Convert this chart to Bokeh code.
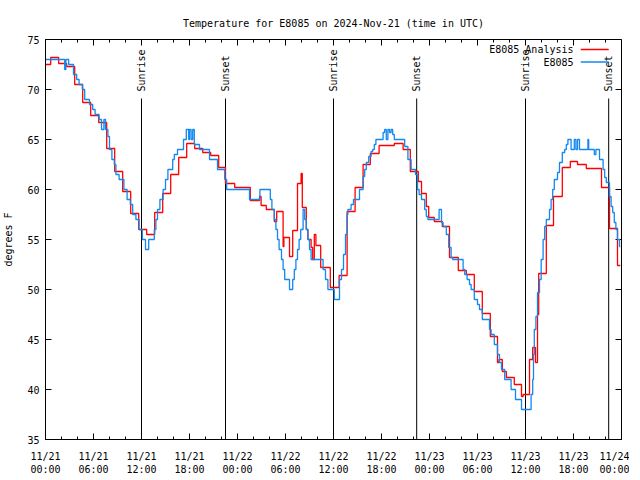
import math
from bokeh.plotting import figure
from bokeh.models import Range1d, FixedTicker, ColumnDataSource
from bokeh.core.properties import value
from bokeh.embed import file_html
from bokeh.resources import INLINE

FONT = "DejaVu Sans Mono"

# ---- data (hours since 2024-11-21 00:00 UTC, degrees F) ----
x_ticks = [0, 6, 12, 18, 24, 30, 36, 42, 48, 54, 60, 66, 72]
x_tick_labels = ["11/21\n00:00", "11/21\n06:00", "11/21\n12:00", "11/21\n18:00",
                 "11/22\n00:00", "11/22\n06:00", "11/22\n12:00", "11/22\n18:00",
                 "11/23\n00:00", "11/23\n06:00", "11/23\n12:00", "11/23\n18:00",
                 "11/24\n00:00"]
x_minor = [h for h in range(0, 73, 2)]
y_ticks = [35, 40, 45, 50, 55, 60, 65, 70, 75]

sun_hours = [12.0, 22.5, 36.0, 46.4, 60.0, 70.4]
sun_labels = ["Sunrise", "Sunset", "Sunrise", "Sunset", "Sunrise", "Sunset"]

analysis_hours = [0, 0.65, 1.65, 2.65, 3.65, 4.65, 5.65, 6.65, 7.65, 8.65, 9.65, 10.65,
                  11.65, 12.65, 13.65, 14.65, 15.65, 16.65, 17.65, 18.65, 19.65, 20.65,
                  21.65, 22.5, 23.65, 25.6, 26.75, 26.95, 27.6, 28.6, 28.9, 29.7, 29.8,
                  30.5, 30.9, 31.5, 31.95, 32.1, 32.6, 32.8, 33.2, 33.4, 33.6, 33.8, 34.4,
                  35.6, 36.7, 37.7, 38.7, 39.7, 40.6, 41.7, 42.7, 43.6, 44.7, 45.6, 46.6,
                  47.0, 47.6, 47.9, 48.6, 49.6, 50.5, 51.6, 52.6, 53.6, 54.6, 55.6, 56.5,
                  56.7, 57.1, 57.6, 58.6, 59.5, 59.7, 60.5, 60.9, 61.25, 61.5, 61.65, 62.6,
                  63.5, 64.6, 65.6, 66.5, 67.6, 69.5, 70.5, 71.5, 71.85]
analysis_temps = [72.5, 73.2, 72.6, 72.3, 70.5, 68.7, 67.4, 66.7, 64.1, 61.8, 59.8, 57.6,
                  56.0, 55.5, 57.7, 59.6, 61.5, 63.2, 64.6, 64.1, 63.7, 63.4,
                  62.2, 60.6, 60.2, 58.9, 59.3, 58.4, 58.0, 56.8, 57.8, 54.3, 55.2,
                  53.3, 55.9, 60.6, 61.6, 58.2, 56.0, 55.0, 54.2, 53.0, 55.5, 54.4, 52.2,
                  50.2, 51.4, 57.8, 60.2, 62.5, 63.6, 64.4, 64.4, 64.6, 64.0, 61.8, 60.8,
                  59.6, 58.3, 57.2, 56.8, 56.3, 53.2, 51.9, 51.5, 49.8, 47.6, 45.3, 42.7,
                  43.0, 41.8, 41.2, 40.5, 39.3, 39.5, 43.0, 44.2, 42.7, 47.5, 51.6, 56.4,
                  59.3, 62.2, 62.8, 62.5, 62.1, 60.2, 56.1, 52.4, 52.4]

obs_hours = [0.0, 2.4, 2.55, 2.9, 3.5, 3.9, 4.2, 4.6, 4.9, 5.5, 5.9, 6.2, 6.7, 7.0, 7.3,
             7.5, 7.8, 8.0, 8.3, 8.6, 8.8, 9.2, 9.8, 10.2, 10.6, 10.9, 11.3, 11.7, 12.1,
             12.5, 12.9, 13.6, 13.8, 14.0, 14.3, 14.7, 15.0, 15.3, 15.9, 16.1, 16.5,
             17.25, 17.6, 17.9, 18.0, 18.2, 18.4, 18.6, 19.25, 20.5, 21.5, 22.4, 22.65,
             25.5, 26.8, 28.1, 28.3, 28.6, 28.8, 29.0, 29.2, 29.5, 29.7, 29.9, 30.5,
             30.9, 31.1, 31.3, 31.5, 31.7, 31.9, 32.2, 32.4, 32.6, 32.8, 33.0, 33.2,
             34.7, 35.0, 35.3, 36.1, 36.75, 37.0, 37.25, 37.5, 37.7, 37.8, 38.2, 38.5,
             39.25, 39.7, 39.9, 40.1, 40.4, 40.7, 40.9, 41.1, 41.3, 42.2, 42.4, 42.6,
             42.8, 43.0, 43.2, 43.4, 43.6, 44.9, 45.3, 45.7, 46.25, 46.5, 46.7, 47.0,
             47.4, 47.6, 47.8, 49.2, 49.5, 49.7, 50.1, 50.4, 50.7, 50.9, 52.2, 52.4,
             52.7, 53.0, 53.2, 53.6, 54.0, 54.25, 54.6, 55.5, 55.7, 56.1, 56.5, 56.75,
             57.0, 57.4, 58.2, 58.75, 59.5, 60.7, 60.9, 61.0, 61.1, 61.3, 61.5, 61.75,
             61.96, 62.2, 62.4, 62.6, 63.0, 63.2, 63.4, 63.6, 64.0, 64.25, 64.6, 64.9,
             65.1, 65.3, 65.7, 66.1, 66.3, 66.5, 66.75, 67.8, 67.9, 68.6, 68.8, 69.25,
             69.7, 69.9, 70.1, 70.5, 70.7, 70.9, 71.1, 71.3, 71.5, 71.75, 71.85]
obs_temps = [73, 72, 73, 72.5, 71.5, 71, 70.5, 70, 69, 68.5, 68, 67.5, 67, 66, 67,
             66, 65.3, 64, 63, 62.5, 61.5, 61, 60, 59, 58.5, 57.5, 57, 56, 55,
             54, 55, 56, 57, 58, 59, 60, 61, 62, 63, 63.5, 64,
             65, 66, 65, 66, 65, 66, 64.5, 64, 63, 62, 61, 60,
             59, 60, 59, 58, 57, 56, 55, 54, 53, 52, 51, 50,
             51, 52, 53, 54, 55, 56, 58, 57, 56, 55, 54, 53,
             52, 51, 50, 49, 51, 52, 53.5, 55.5, 57.5, 58, 58.5, 59,
             60, 61.3, 62, 62.7, 63.3, 63.8, 64, 64.5, 65, 65.7, 66, 65,
             66, 65.7, 66, 65.5, 65, 64.3, 63, 62, 61.5, 60, 59.5, 59,
             58, 57.3, 57, 58, 56.7, 56.3, 55.5, 54.2, 53.2, 53, 52, 51.5,
             51, 50.5, 50, 49, 48.5, 48, 47, 46, 45.5, 44.5, 43.5, 42.7,
             42, 41, 40, 39, 38, 39.5, 41, 43.5, 46, 47.3, 49.7, 51,
             53, 55, 56.3, 57, 58, 59, 60, 61, 61.7, 62.7, 63.7, 64,
             64.5, 65, 64, 65, 64, 65, 64, 65, 64, 63.5, 64, 63,
             62, 61.2, 60.7, 59.3, 58.3, 57.7, 56.7, 56, 55, 54.3, 54.3]

series_names = ["E8085 Analysis", "E8085"]
series_colors = ["#ff0000", "#1288f0"]

X0, X1, Y0, Y1 = 0, 72, 35, 75

# ---- figure ----
p = figure(frame_width=576, frame_height=400,
           x_range=Range1d(X0, X1), y_range=Range1d(Y0, Y1),
           output_backend="svg", toolbar_location=None,
           min_border_left=42, min_border_right=8, min_border_top=39,
           min_border_bottom=8, background_fill_color="white",
           border_fill_color="white")
p.title.text = "Temperature for E8085 on 2024-Nov-21 (time in UTC)"
p.title.align = "center"
p.title.text_font = FONT
p.title.text_font_size = "10px"
p.title.text_font_style = "normal"
p.title.text_color = "black"
p.title.standoff = 22
p.outline_line_color = "black"
p.outline_line_width = 1
p.grid.visible = False

xt = FixedTicker(ticks=x_ticks, minor_ticks=x_minor)
yt = FixedTicker(ticks=y_ticks, minor_ticks=[])

p.xaxis.ticker = xt
p.xaxis.major_label_overrides = {t: l for t, l in zip(x_ticks, x_tick_labels)}
p.yaxis.ticker = yt
p.yaxis.axis_label = "degrees F"

for ax in [p.xaxis[0], p.yaxis[0]]:
    ax.major_tick_in = 6
    ax.major_tick_out = 0
    ax.minor_tick_in = 3
    ax.minor_tick_out = 0
    ax.axis_line_color = "black"
    ax.major_tick_line_color = "black"
    ax.minor_tick_line_color = "black"
    ax.major_label_text_font = FONT
    ax.major_label_text_font_size = "10px"
    ax.major_label_text_color = "black"
    ax.axis_label_text_font = FONT
    ax.axis_label_text_font_size = "10px"
    ax.axis_label_text_font_style = "normal"
    ax.axis_label_text_color = "black"
p.xaxis.major_label_standoff = 11
p.yaxis.major_label_standoff = 6
p.yaxis.axis_label_standoff = 10

# mirrored ticks on the top and right border (gnuplot style)
top_src = ColumnDataSource(dict(x=x_ticks, y0=[Y1] * len(x_ticks),
                                y1=[Y1 - 0.6] * len(x_ticks)))
top_minor_src = ColumnDataSource(dict(x=x_minor, y0=[Y1] * len(x_minor),
                                      y1=[Y1 - 0.3] * len(x_minor)))
right_src = ColumnDataSource(dict(y=y_ticks, x0=[X1] * len(y_ticks),
                                  x1=[X1 - 0.75] * len(y_ticks)))
p.segment(x0="x", y0="y0", x1="x", y1="y1", source=top_src, line_color="black",
          line_width=1)
p.segment(x0="x", y0="y0", x1="x", y1="y1", source=top_minor_src, line_color="black",
          line_width=1)
p.segment(x0="x0", y0="y", x1="x1", y1="y", source=right_src, line_color="black",
          line_width=1)

# sunrise / sunset markers
sun_src = ColumnDataSource(dict(x=sun_hours, y0=[Y0] * len(sun_hours),
                                y1=[69.1] * len(sun_hours), ty=[69.8] * len(sun_hours),
                                label=sun_labels))
p.segment(x0="x", y0="y0", x1="x", y1="y1", source=sun_src, line_color="black",
          line_width=1)
p.text(x="x", y="ty", text="label", source=sun_src, angle=math.pi / 2,
       text_align="left", text_baseline="middle", text_font=value(FONT),
       text_font_size="10px", text_color="black")

# series
p.step(analysis_hours, analysis_temps, mode="after", line_color=series_colors[0],
       line_width=1.3)
p.step(obs_hours, obs_temps, mode="after", line_color=series_colors[1],
       line_width=1.3)

# gnuplot-style key (text then line sample), top right
key_src = ColumnDataSource(dict(tx=[66.0, 66.0], ty=[74.0, 72.75], label=series_names,
                                x0=[66.9, 66.9], x1=[70.4, 70.4], color=series_colors))
p.text(x="tx", y="ty", text="label", source=key_src, text_align="right",
       text_baseline="middle", text_font=value(FONT), text_font_size="10px",
       text_color="black")
p.segment(x0="x0", y0="ty", x1="x1", y1="ty", source=key_src, line_color="color",
          line_width=1.3)

open("out.html", "w").write(file_html(p, INLINE))
